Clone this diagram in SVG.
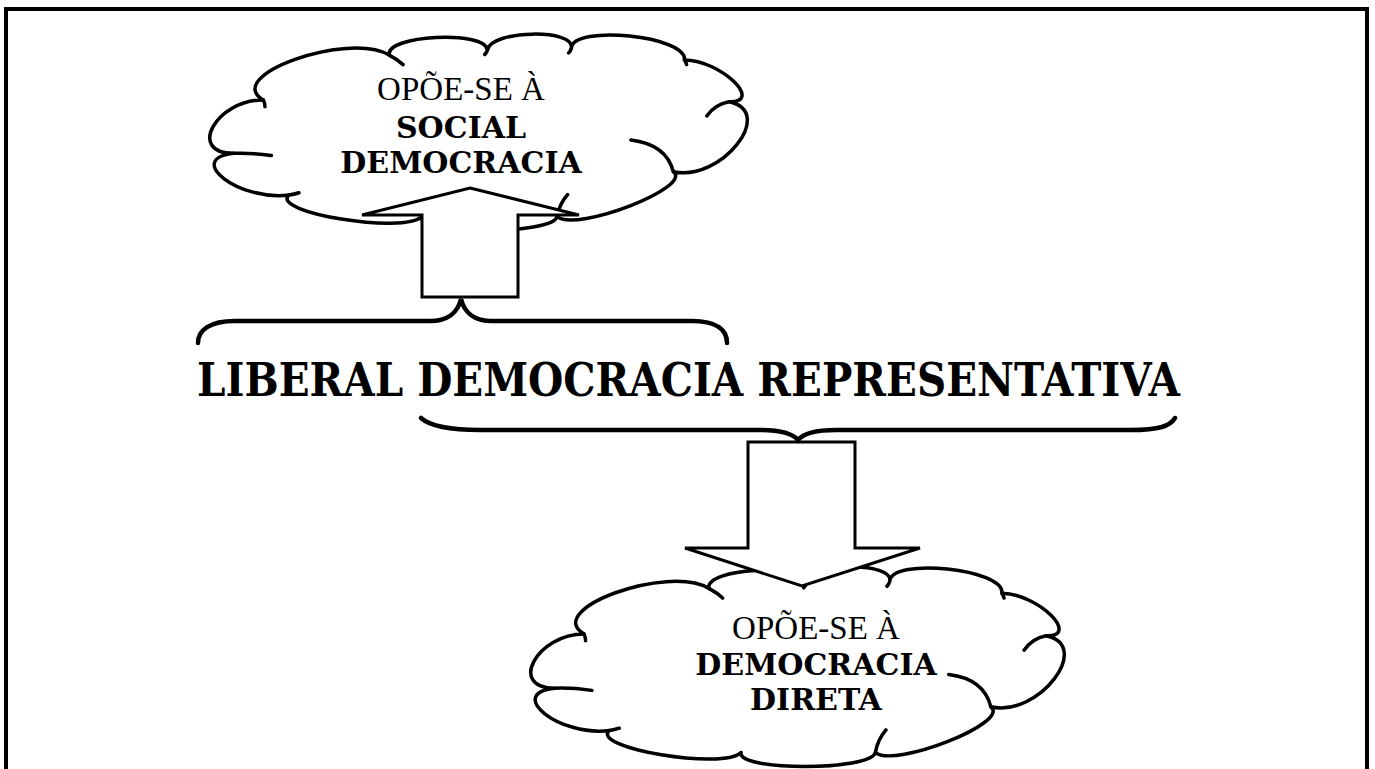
<svg xmlns="http://www.w3.org/2000/svg" width="1375" height="769" viewBox="0 0 1375 769">
<style>
.frame{fill:none;stroke:#000;stroke-width:4}
.cloud{fill:#fff;stroke:#000;stroke-width:3.5;stroke-linejoin:round}
.hook{fill:none;stroke:#000;stroke-width:3.5;stroke-linecap:round}
.arrow{fill:#fff;stroke:#000;stroke-width:3;stroke-linejoin:miter}
.brace{fill:none;stroke:#000;stroke-width:4.5;stroke-linecap:round}
.reg{font-family:"Liberation Serif","Times New Roman",serif;font-size:33px;fill:#000;text-anchor:middle}
.bold{font-family:"DejaVu Serif",serif;font-weight:bold;font-size:30px;fill:#000;text-anchor:middle}
.title{font-family:"DejaVu Serif",serif;font-weight:bold;font-size:46px;fill:#000}
</style>
<rect class="frame" x="6" y="9" width="1361" height="800"/>

<g id="cloud-top">
<g transform="translate(214,35) scale(0.531,0.195)">
<path class="cloud" vector-effect="non-scaling-stroke" d="M37,607 C-52,607 4,333 93,333 C14,210 252,-22 330,103 C322,0 511,-26 515,77 C520,-26 682,-34 673,68 C675,-56 892,4 886,128 C955,130 1036,347 970,342 C1060,393 955,756 865,701 C903,780 683,1012 646,932 C637,1026 382,1026 391,932 C357,1022 105,910 141,821 C46,852 -56,635 37,607 Z"/>
<path class="hook" vector-effect="non-scaling-stroke" d="M93,333 Q96,350 96,368 M330,103 Q346,126 356,152 M515,77 Q514,88 510,100 M673,68 Q672,80 668,92 M886,128 Q889,139 890,152 M970,342 Q943,356 928,415 M865,701 Q852,560 785,538 M646,932 Q650,868 666,818 M141,821 Q151,817 160,809 M37,607 Q72,604 108,618"/>
</g>
</g>

<g id="cloud-bottom">
<g transform="translate(535,568) scale(0.527,0.198)">
<path class="cloud" vector-effect="non-scaling-stroke" d="M37,607 C-52,607 4,333 93,333 C14,210 252,-22 330,103 C322,0 511,-26 515,77 C520,-26 682,-34 673,68 C675,-56 892,4 886,128 C955,130 1036,347 970,342 C1060,393 955,756 865,701 C903,780 683,1012 646,932 C637,1026 382,1026 391,932 C357,1022 105,910 141,821 C46,852 -56,635 37,607 Z"/>
<path class="hook" vector-effect="non-scaling-stroke" d="M93,333 Q96,350 96,368 M330,103 Q346,126 356,152 M515,77 Q514,88 510,100 M673,68 Q672,80 668,92 M886,128 Q889,139 890,152 M970,342 Q943,356 928,415 M865,701 Q852,560 785,538 M646,932 Q650,868 666,818 M141,821 Q151,817 160,809 M37,607 Q72,604 108,618"/>
</g>
</g>

<g id="connectors">
<polygon id="arrow-up" class="arrow" points="470,188 579,215 518,215 518,297 422,297 422,215 362,215"/>
<polygon id="arrow-down" class="arrow" points="748,442 855,442 855,548 920,548 802,586 685,548 748,548"/>
<path id="brace-top" class="brace" d="M198,343 C198,330 210,321 235,321 L430,321 C448,321 458,312 461,299 C464,312 474,321 492,321 L692,321 C717,321 727,330 727,343"/>
<path id="brace-bottom" class="brace" d="M421,418 C430,426 450,430 480,430 L760,430 C780,430 793,434 798,440 C803,434 816,430 836,430 L1130,430 C1160,430 1170,426 1175,418"/>
</g>

<g id="label-top">
<text class="reg" x="461" y="100">OPÕE-SE À</text>
<text class="bold" x="461" y="138">SOCIAL</text>
<text class="bold" x="461" y="173">DEMOCRACIA</text>
</g>

<g id="title">
<text class="title" x="197" y="396" textLength="983" lengthAdjust="spacingAndGlyphs">LIBERAL DEMOCRACIA REPRESENTATIVA</text>
</g>

<g id="label-bottom">
<text class="reg" x="816" y="639">OPÕE-SE À</text>
<text class="bold" x="816" y="675">DEMOCRACIA</text>
<text class="bold" x="816" y="710">DIRETA</text>
</g>
</svg>
